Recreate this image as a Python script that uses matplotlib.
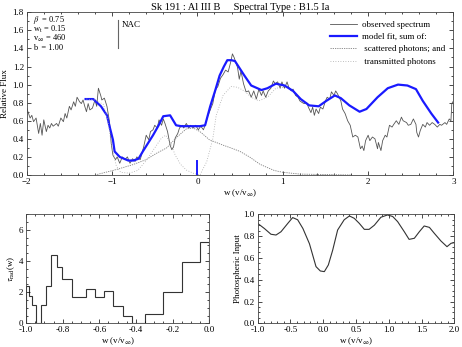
import numpy as np
import matplotlib.pyplot as plt
from matplotlib.ticker import MultipleLocator

plt.rcParams['font.family'] = ['Liberation Serif', 'DejaVu Serif']
plt.rcParams['mathtext.fontset'] = 'stix'

# observed spectrum
obs_w = [-2.00, -1.96, -1.94, -1.92, -1.89, -1.86, -1.84, -1.82, -1.80, -1.77,
         -1.75, -1.73, -1.71, -1.69, -1.65, -1.63, -1.60, -1.57, -1.55, -1.53,
         -1.50, -1.48, -1.45, -1.43, -1.41, -1.38, -1.36, -1.34, -1.32, -1.30,
         -1.28, -1.26, -1.23, -1.20, -1.18, -1.16, -1.13, -1.12, -1.09, -1.06,
         -1.03, -1.01, -0.99, -0.96, -0.94, -0.91, -0.88, -0.85, -0.82, -0.79,
         -0.76, -0.73, -0.71, -0.67, -0.65, -0.63, -0.60, -0.57, -0.55, -0.52,
         -0.50, -0.47, -0.45, -0.42, -0.40, -0.38, -0.35, -0.32, -0.30, -0.28,
         -0.26, -0.23, -0.21, -0.18, -0.16, -0.13, -0.10, -0.08, -0.05, -0.02,
         0.01, 0.04, 0.07, 0.09, 0.12, 0.15, 0.18, 0.21, 0.24, 0.27,
         0.30, 0.33, 0.36, 0.39, 0.41, 0.43, 0.47, 0.49, 0.51, 0.54,
         0.57, 0.60, 0.63, 0.66, 0.69, 0.72, 0.75, 0.77, 0.80, 0.83,
         0.86, 0.89, 0.91, 0.94, 0.97, 0.99, 1.02, 1.05, 1.07, 1.10,
         1.12, 1.15, 1.18, 1.20, 1.23, 1.25, 1.28, 1.30, 1.33, 1.35,
         1.37, 1.39, 1.42, 1.44, 1.47, 1.50, 1.52, 1.55, 1.57, 1.60,
         1.62, 1.64, 1.68, 1.70, 1.73, 1.76, 1.79, 1.82, 1.85, 1.88,
         1.91, 1.93, 1.95, 1.97, 2.00, 2.02, 2.05, 2.08, 2.11, 2.12,
         2.15, 2.17, 2.20, 2.22, 2.25, 2.28, 2.30, 2.33, 2.36, 2.39,
         2.41, 2.45, 2.47, 2.50, 2.53, 2.56, 2.57, 2.59, 2.61, 2.64,
         2.67, 2.69, 2.72, 2.75, 2.78, 2.81, 2.84, 2.86, 2.90, 2.92,
         2.95, 2.97, 2.98, 3.00]
obs_f = [0.74, 0.63, 0.66, 0.59, 0.63, 0.46, 0.57, 0.44, 0.61, 0.48,
         0.55, 0.52, 0.57, 0.54, 0.57, 0.54, 0.63, 0.59, 0.68, 0.63,
         0.76, 0.72, 0.81, 0.76, 0.86, 0.81, 0.79, 0.83, 0.76, 0.70,
         0.79, 0.72, 0.74, 0.83, 0.76, 0.96, 0.87, 0.83, 0.85, 0.76,
         0.59, 0.35, 0.22, 0.17, 0.20, 0.13, 0.20, 0.17, 0.20, 0.13,
         0.18, 0.15, 0.20, 0.17, 0.24, 0.31, 0.44, 0.39, 0.48, 0.50,
         0.55, 0.52, 0.61, 0.55, 0.62, 0.57, 0.48, 0.33, 0.28, 0.31,
         0.41, 0.46, 0.52, 0.55, 0.52, 0.57, 0.52, 0.55, 0.52, 0.55,
         0.50, 0.54, 0.50, 0.55, 0.65, 0.72, 0.79, 0.94, 0.98, 1.07,
         1.11, 1.16, 1.14, 1.25, 1.34, 1.30, 1.19, 1.06, 1.15, 1.01,
         0.92, 0.93, 0.86, 0.93, 0.84, 0.95, 0.88, 0.93, 0.86, 0.93,
         0.96, 1.04, 1.01, 1.03, 0.96, 1.03, 0.96, 1.03, 0.97, 0.93,
         0.95, 0.88, 0.86, 0.82, 0.80, 0.79, 0.80, 0.75, 0.69, 0.75,
         0.66, 0.73, 0.68, 0.75, 0.73, 0.82, 0.86, 0.84, 0.92, 0.88,
         0.93, 0.90, 0.82, 0.73, 0.68, 0.60, 0.55, 0.42, 0.44, 0.42,
         0.29, 0.32, 0.27, 0.38, 0.44, 0.38, 0.42, 0.40, 0.29, 0.36,
         0.27, 0.38, 0.44, 0.42, 0.55, 0.53, 0.56, 0.60, 0.56, 0.64,
         0.60, 0.58, 0.55, 0.56, 0.62, 0.56, 0.47, 0.42, 0.49, 0.56,
         0.53, 0.58, 0.55, 0.58, 0.56, 0.53, 0.56, 0.55, 0.58, 0.56,
         0.62, 0.60, 0.79, 0.82]

# model fit
fit_w = [-1.31, -1.22, -1.13, -1.06, -1.03, -0.99, -0.97, -0.91, -0.81, -0.75,
         -0.69, -0.64, -0.58, -0.52, -0.46, -0.40, -0.32, -0.25, -0.19, -0.09,
         0.03, 0.09, 0.15, 0.21, 0.26, 0.31, 0.35, 0.40, 0.44, 0.55,
         0.63, 0.75, 0.82, 0.92, 1.02, 1.12, 1.21, 1.31, 1.42, 1.51,
         1.61, 1.68, 1.78, 1.90, 1.98, 2.11, 2.23, 2.35, 2.46, 2.56,
         2.64, 2.74, 2.82]
fit_f = [0.84, 0.84, 0.76, 0.66, 0.54, 0.39, 0.26, 0.20, 0.16, 0.16,
         0.18, 0.26, 0.35, 0.44, 0.54, 0.65, 0.66, 0.55, 0.54, 0.54,
         0.54, 0.55, 0.76, 0.94, 1.10, 1.20, 1.27, 1.27, 1.26, 1.10,
         0.99, 0.94, 0.96, 1.01, 0.99, 0.93, 0.84, 0.77, 0.76, 0.82,
         0.88, 0.85, 0.77, 0.70, 0.73, 0.86, 0.96, 1.00, 0.99, 0.95,
         0.82, 0.68, 0.58]

# scattered photons
scat_w = [-1.20, -0.99, -0.77, -0.60, -0.48, -0.36, -0.25, -0.18, -0.13, -0.05,
          0.03, 0.14, 0.30, 0.42, 0.50, 0.61, 0.73, 0.80, 0.90, 1.00,
          1.20, 1.80]
scat_f = [0.00, 0.05, 0.11, 0.17, 0.24, 0.30, 0.41, 0.47, 0.51, 0.52,
          0.48, 0.39, 0.33, 0.29, 0.26, 0.20, 0.12, 0.09, 0.05, 0.03,
          0.01, 0.00]

# transmitted photons
tran_w = [-1.30, -1.20, -1.10, -1.05, -1.00, -0.95, -0.90, -0.80, -0.70, -0.60,
          -0.50, -0.42, -0.37, -0.31, -0.26, -0.20, -0.13, -0.05, 0.03, 0.11,
          0.18, 0.22, 0.30, 0.395, 0.47, 0.55, 0.63, 0.72, 0.82, 0.92,
          1.02]
tran_f = [0.84, 0.83, 0.78, 0.60, 0.30, 0.10, 0.03, 0.02, 0.05, 0.16,
          0.30, 0.41, 0.44, 0.34, 0.22, 0.12, 0.055, 0.02, 0.00, 0.15,
          0.40, 0.66, 0.88, 0.98, 0.97, 0.93, 0.86, 0.82, 0.86, 0.96,
          0.97]

# radial optical depth bins
tau_edges = [-1.0, -0.982, -0.965, -0.947, -0.918, -0.891, -0.865, -0.829, -0.805,
             -0.747, -0.673, -0.624, -0.573, -0.524, -0.473, -0.424, -0.351,
             -0.251, -0.151, -0.051, 0.0]
tau_vals = [2.4, 1.76, 1.18, 0.0, 1.18, 2.4, 4.39, 3.6, 2.83,
            1.71, 2.2, 1.67, 2.08, 1.11, 0.47, 0.0, 0.58,
            2.03, 3.96, 5.25]

# photospheric input
phot_w = [-1.0, -0.898, -0.797, -0.72, -0.644, -0.54, -0.466, -0.39, -0.31, -0.21,
          -0.11, -0.044, 0.017, 0.078, 0.144, 0.22, 0.32, 0.40, 0.474, 0.55,
          0.627, 0.70, 0.78, 0.88, 0.98, 1.06, 1.135, 1.237, 1.31, 1.39,
          1.466, 1.54, 1.62, 1.694, 1.796, 1.888, 1.95, 2.0]
phot_f = [0.917, 0.87, 0.817, 0.81, 0.84, 0.917, 0.97, 0.95, 0.87, 0.73,
          0.52, 0.48, 0.474, 0.535, 0.67, 0.856, 0.95, 0.985, 0.963, 0.917,
          0.862, 0.862, 0.90, 0.973, 0.994, 0.98, 0.933, 0.84, 0.77, 0.78,
          0.84, 0.893, 0.88, 0.826, 0.755, 0.703, 0.734, 0.74]

params = [r'$\beta$  = 0.75', r'w$_{\rm t}$ = 0.15', r'v$_\infty$ = 460', 'b  = 1.00']

fs = 6.5


def style_axes(ax):
    ax.tick_params(which='both', direction='in', top=True, right=True,
                   labelsize=fs, pad=2, width=0.5)
    ax.tick_params(which='major', length=3)
    ax.tick_params(which='minor', length=1.5)
    for s in ax.spines.values():
        s.set_linewidth(0.6)
        s.set_color('#444444')


fig = plt.figure(figsize=(4.62, 3.47), dpi=100)

# ---- top panel ----
ax = fig.add_axes([0.0578, 0.4957, 0.9238, 0.4689])
ax.plot(obs_w, obs_f, color='#555555', lw=0.6, label='observed spectrum')
ax.plot(fit_w, fit_f, color='#1a1aff', lw=1.6, label='model fit, sum of:')
ax.plot(scat_w, scat_f, color='#808080', lw=0.6, ls=(0, (1.5, 1.2)),
        label=' scattered photons; and')
ax.plot(tran_w, tran_f, color='#aaaaaa', lw=0.6, ls=(0, (1, 2)),
        label=' transmitted photons')
ax.plot([0, 0], [0, 0.15], color='#1a1aff', lw=1.4)
ax.plot([-0.93, -0.93], [1.40, 1.71], color='#666666', lw=0.8)
ax.text(-0.89, 1.66, 'NAC', fontsize=fs, va='center')
for i, p in enumerate(params):
    ax.text(-1.93, 1.71 - i * 0.1, p, fontsize=6, va='center')
ax.set_xlim(-2, 3)
ax.set_ylim(0, 1.8)
ax.xaxis.set_major_locator(MultipleLocator(1))
ax.xaxis.set_minor_locator(MultipleLocator(0.2))
ax.yaxis.set_major_locator(MultipleLocator(0.2))
ax.yaxis.set_minor_locator(MultipleLocator(0.1))
ax.set_yticklabels([f'{v:.1f}' for v in ax.get_yticks()])
style_axes(ax)
ax.set_ylabel('Relative Flux', fontsize=fs, labelpad=3)
ax.set_xlabel(r'w (v/v$_\infty$)', fontsize=fs, labelpad=1)
ax.set_title('Sk 191 : Al III B     Spectral Type : B1.5 Ia', fontsize=7.5, pad=2)
leg = ax.legend(loc='upper right', fontsize=fs, frameon=False, handlelength=3.0,
                bbox_to_anchor=(1.0, 1.0), labelspacing=0.45, handletextpad=0.6)

# ---- bottom left: tau ----
ax2 = fig.add_axes([0.0563, 0.0683, 0.3967, 0.3141])
ax2.stairs(tau_vals, tau_edges, color='#333333', lw=0.8)
ax2.set_xlim(-1, 0)
ax2.set_ylim(0, 7)
ax2.xaxis.set_major_locator(MultipleLocator(0.2))
ax2.xaxis.set_minor_locator(MultipleLocator(0.05))
ax2.yaxis.set_major_locator(MultipleLocator(2))
ax2.yaxis.set_minor_locator(MultipleLocator(0.5))
ax2.set_xticklabels([f'{v:.1f}' for v in ax2.get_xticks()])
style_axes(ax2)
ax2.set_ylabel(r'$\tau_{\rm rad}$(w)', fontsize=fs, labelpad=1)
ax2.set_xlabel(r'w (v/v$_\infty$)', fontsize=fs, labelpad=1)

# ---- bottom right: photospheric input ----
ax3 = fig.add_axes([0.5577, 0.0683, 0.4257, 0.3141])
ax3.plot(phot_w, phot_f, color='#333333', lw=0.8)
ax3.set_xlim(-1, 2)
ax3.set_ylim(0, 1)
ax3.xaxis.set_major_locator(MultipleLocator(0.5))
ax3.xaxis.set_minor_locator(MultipleLocator(0.1))
ax3.yaxis.set_major_locator(MultipleLocator(0.2))
ax3.yaxis.set_minor_locator(MultipleLocator(0.05))
ax3.set_xticklabels([f'{v:.1f}' for v in ax3.get_xticks()])
ax3.set_yticklabels([f'{v:.1f}' for v in ax3.get_yticks()])
style_axes(ax3)
ax3.set_ylabel('Photospheric Input', fontsize=fs, labelpad=1)
ax3.set_xlabel(r'w (v/v$_\infty$)', fontsize=fs, labelpad=1)

fig.savefig('out.png', dpi=100)
